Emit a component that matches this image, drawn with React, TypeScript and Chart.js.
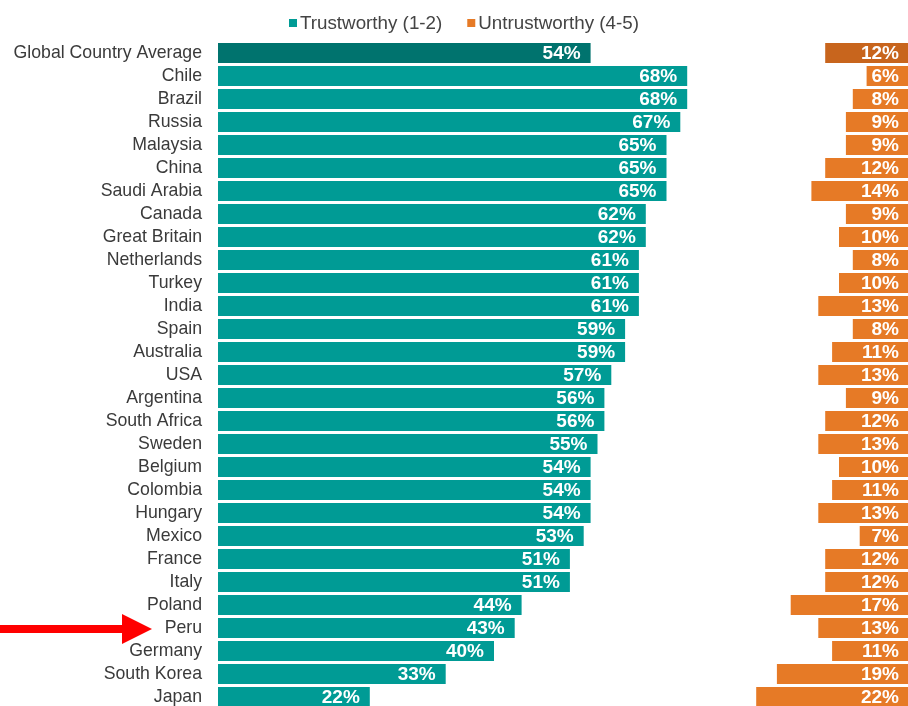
import React, { useEffect, useRef } from "react";
import { Chart, registerables } from "chart.js";

Chart.register(...registerables);

const countries = [
  "Global Country Average", "Chile", "Brazil", "Russia", "Malaysia", "China", "Saudi Arabia",
  "Canada", "Great Britain", "Netherlands", "Turkey", "India", "Spain", "Australia", "USA",
  "Argentina", "South Africa", "Sweden", "Belgium", "Colombia", "Hungary", "Mexico", "France",
  "Italy", "Poland", "Peru", "Germany", "South Korea", "Japan",
];

const trustworthy = [54, 68, 68, 67, 65, 65, 65, 62, 62, 61, 61, 61, 59, 59, 57, 56, 56, 55, 54, 54, 54, 53, 51, 51, 44, 43, 40, 33, 22];
const untrustworthy = [12, 6, 8, 9, 9, 12, 14, 9, 10, 8, 10, 13, 8, 11, 13, 9, 12, 13, 10, 11, 13, 7, 12, 12, 17, 13, 11, 19, 22];

const seriesLabels = ["Trustworthy (1-2)", "Untrustworthy (4-5)"];
const highlighted = "Peru";

const TEAL = "#009b95";
const TEAL_DARK = "#00736e";
const ORANGE = "#e67a26";
const ORANGE_DARK = "#c8651d";
const FONT = "'Liberation Sans', Arial, sans-serif";

const legendPlugin = {
  id: "customLegend",
  afterDraw(chart: any) {
    const ctx = chart.ctx;
    ctx.save();
    ctx.font = `18.8px ${FONT}`;
    ctx.textBaseline = "middle";
    const box = 8;
    const gap = 3;
    const itemGap = 25;
    const colors = [TEAL, ORANGE];
    const widths = seriesLabels.map((l) => box + gap + ctx.measureText(l).width);
    const total = widths.reduce((a, b) => a + b, 0) + itemGap;
    let x = chart.width / 2 + 10 - total / 2;
    const y = 23;
    seriesLabels.forEach((l, i) => {
      ctx.fillStyle = colors[i];
      ctx.fillRect(x, y - box / 2, box, box);
      ctx.fillStyle = "#444444";
      ctx.textAlign = "left";
      ctx.fillText(l, x + box + gap, y + 1);
      x += widths[i] + itemGap;
    });
    ctx.restore();
  },
};

const valueLabelPlugin = {
  id: "valueLabels",
  afterDatasetsDraw(chart: any) {
    const ctx = chart.ctx;
    ctx.save();
    ctx.font = `bold 19px ${FONT}`;
    ctx.fillStyle = "#ffffff";
    ctx.textAlign = "right";
    ctx.textBaseline = "middle";
    const m0 = chart.getDatasetMeta(0);
    m0.data.forEach((el: any, i: number) => {
      ctx.fillText(`${trustworthy[i]}%`, el.x - 10, el.y + 1);
    });
    const m1 = chart.getDatasetMeta(1);
    m1.data.forEach((el: any, i: number) => {
      ctx.fillText(`${untrustworthy[i]}%`, Math.max(el.x, el.base) - 9, el.y + 1);
    });
    ctx.restore();
  },
};

const arrowPlugin = {
  id: "arrow",
  afterDraw(chart: any) {
    const yScale = chart.scales.y;
    const idx = countries.indexOf(highlighted);
    if (idx < 0) return;
    const y = yScale.getPixelForValue(idx) + 1;
    const ctx = chart.ctx;
    ctx.save();
    ctx.fillStyle = "#ff0000";
    ctx.fillRect(0, y - 4, 124, 8);
    ctx.beginPath();
    ctx.moveTo(122, y - 15);
    ctx.lineTo(152, y);
    ctx.lineTo(122, y + 15);
    ctx.closePath();
    ctx.fill();
    ctx.restore();
  },
};

export default function App() {
  const ref = useRef<HTMLCanvasElement | null>(null);
  useEffect(() => {
    document.body.style.margin = "0";
    document.body.style.overflow = "hidden";
    document.documentElement.style.overflow = "hidden";
    const canvas = ref.current;
    if (!canvas) return;
    const chart = new Chart(canvas, {
      type: "bar",
      data: {
        labels: countries,
        datasets: [
          {
            label: seriesLabels[0],
            data: trustworthy,
            xAxisID: "x",
            backgroundColor: countries.map((_, i) => (i === 0 ? TEAL_DARK : TEAL)),
            grouped: false,
            barPercentage: 0.86,
            categoryPercentage: 1,
          } as any,
          {
            label: seriesLabels[1],
            data: untrustworthy,
            xAxisID: "x2",
            backgroundColor: countries.map((_, i) => (i === 0 ? ORANGE_DARK : ORANGE)),
            grouped: false,
            barPercentage: 0.86,
            categoryPercentage: 1,
          } as any,
        ],
      },
      options: {
        indexAxis: "y",
        responsive: false,
        animation: false,
        layout: { padding: { top: 41.5, bottom: 3.5, left: 0, right: 0 } },
        plugins: {
          legend: { display: false },
          tooltip: { enabled: false },
        },
        scales: {
          x: { display: false, min: 0, max: 100, grid: { display: false } },
          x2: { display: false, min: 0, max: 100, reverse: true, grid: { display: false } },
          y: {
            grid: { display: false, drawTicks: false },
            border: { display: false },
            ticks: {
              padding: 16,
              color: "#3a3a3a",
              font: { family: FONT, size: 17.7 },
              autoSkip: false,
            },
            afterFit(scale: any) {
              scale.width = 218;
              scale.paddingTop = 0;
              scale.paddingBottom = 0;
            },
          },
        },
      },
      plugins: [valueLabelPlugin, legendPlugin, arrowPlugin],
    });
    return () => chart.destroy();
  }, []);
  return <canvas ref={ref} width={908} height={712} style={{ display: "block" }} />;
}
